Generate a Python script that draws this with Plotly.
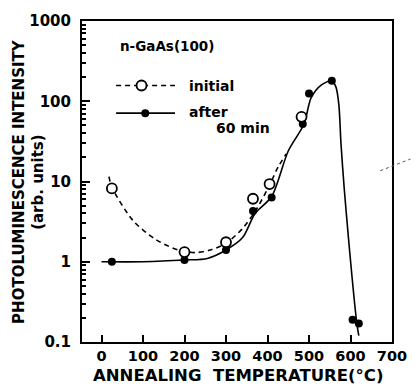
import plotly.graph_objects as go

# measured points
after_x = [25, 200, 300, 365, 410, 485, 500, 555, 605, 620]
after_y = [1.0, 1.05, 1.4, 4.3, 6.3, 52, 125, 180, 0.19, 0.17]
initial_x = [25, 200, 300, 365, 405, 482]
initial_y = [8.2, 1.32, 1.75, 6.1, 9.3, 64]

# hand-drawn guide curves
initial_curve_x = [18, 25, 75, 130, 185, 225, 262, 300, 340, 372, 405, 425, 445]
initial_curve_y = [11.5, 8.5, 3.3, 1.9, 1.4, 1.3, 1.4, 1.7, 2.6, 4.4, 9.0, 15, 22]
after_curve_x = [0, 100, 200, 255, 300, 340, 370, 410, 450, 488, 505, 530, 555, 565, 572, 577, 585, 595, 602, 610, 616, 620]
after_curve_y = [1.0, 1.0, 1.05, 1.1, 1.4, 2.0, 4.0, 6.5, 24, 52, 110, 160, 180, 150, 90, 30, 8, 2, 0.8, 0.3, 0.16, 0.12]

y_tickvals = [0.1, 1, 10, 100, 1000]
y_ticktext = ["0.1", "1", "10", "100", "1000"]
x_tickvals = [0, 100, 200, 300, 400, 500, 600, 700]
minor_vals = [m * d for d in [0.1, 1, 10, 100] for m in range(2, 10)]

FONT = "DejaVu Sans"
fig = go.Figure()

fig.add_trace(go.Scatter(x=initial_curve_x, y=initial_curve_y, mode="lines",
                         line=dict(color="black", width=1.6, dash="5px,4px", shape="spline", smoothing=0.8),
                         hoverinfo="skip"))
fig.add_trace(go.Scatter(x=after_curve_x, y=after_curve_y, mode="lines",
                         line=dict(color="black", width=1.6, shape="spline", smoothing=0.8),
                         hoverinfo="skip"))
fig.add_trace(go.Scatter(x=after_x, y=after_y, mode="markers",
                         marker=dict(symbol="circle", size=8, color="black")))
fig.add_trace(go.Scatter(x=initial_x, y=initial_y, mode="markers",
                         marker=dict(symbol="circle", size=10, color="white",
                                     line=dict(color="black", width=1.8))))

# legend samples on an overlay paper-like axis
fig.add_trace(go.Scatter(x=[0.11, 0.30], y=[0.799, 0.799], xaxis="x2", yaxis="y2", mode="lines",
                         line=dict(color="black", width=1.6, dash="5px,4px")))
fig.add_trace(go.Scatter(x=[0.192], y=[0.799], xaxis="x2", yaxis="y2", mode="markers",
                         marker=dict(symbol="circle", size=10, color="white", line=dict(color="black", width=1.8))))
fig.add_trace(go.Scatter(x=[0.11, 0.30], y=[0.713, 0.713], xaxis="x2", yaxis="y2", mode="lines",
                         line=dict(color="black", width=1.6)))
fig.add_trace(go.Scatter(x=[0.204], y=[0.713], xaxis="x2", yaxis="y2", mode="markers",
                         marker=dict(symbol="circle", size=8, color="black")))

ann = [
    dict(text="<b>n-GaAs(100)</b>", x=0.116, y=0.921, size=13.5),
    dict(text="<b>initial</b>", x=0.34, y=0.799, size=14),
    dict(text="<b>after</b>", x=0.34, y=0.716, size=14),
    dict(text="<b>60 min</b>", x=0.425, y=0.668, size=14),
]
annotations = [dict(text=a["text"], x=a["x"], y=a["y"], xref="paper", yref="paper",
                    xanchor="left", yanchor="middle", showarrow=False,
                    font=dict(family=FONT, size=a["size"], color="black")) for a in ann]
annotations.append(dict(text="<b>PHOTOLUMINESCENCE INTENSITY</b><br><b>(arb. units)</b>", textangle=-90,
                        x=(27 - 82) / 318, y=0.5, xref="paper", yref="paper",
                        xanchor="center", yanchor="middle", showarrow=False,
                        font=dict(family=FONT, size=15, color="black")))
annotations.append(dict(text="<b>ANNEALING  TEMPERATURE(°C)</b>", x=(243 - 82) / 318, y=(342 - 376) / 328,
                        xref="paper", yref="paper", xanchor="center", yanchor="middle", showarrow=False,
                        font=dict(family=FONT, size=16.5, color="black")))

fig.update_layout(
    width=419, height=388,
    margin=dict(l=82, r=19, t=14, b=46),
    paper_bgcolor="white", plot_bgcolor="white",
    showlegend=False,
    annotations=annotations,
    shapes=[dict(type="line", xref="paper", yref="paper",
                 x0=(388 - 82) / 318, y0=(342 - 167) / 328, x1=(419 - 82) / 318, y1=(342 - 155) / 328,
                 line=dict(color="#555", width=1, dash="dot"))],
    xaxis=dict(range=[-47, 700], tickvals=x_tickvals, ticks="inside", ticklen=7, tickwidth=1.5,
               tickcolor="black", showline=True, linewidth=2, linecolor="black", mirror=True,
               showgrid=False, zeroline=False,
               tickfont=dict(family=FONT, size=14.5, color="black", weight="bold")),
    yaxis=dict(type="log", range=[-1, 3], tickvals=y_tickvals, ticktext=y_ticktext,
               ticks="inside", ticklen=8, tickwidth=1.5, tickcolor="black",
               minor=dict(tickvals=minor_vals, ticks="inside", ticklen=4, tickcolor="black", showgrid=False),
               showline=True, linewidth=2, linecolor="black", mirror=True,
               showgrid=False, zeroline=False, ticklabelstandoff=6,
               tickfont=dict(family=FONT, size=15, color="black", weight="bold")),
    xaxis2=dict(range=[0, 1], overlaying="x", visible=False, fixedrange=True),
    yaxis2=dict(range=[0, 1], overlaying="y", visible=False, fixedrange=True),
)

fig.write_html("out.html")
